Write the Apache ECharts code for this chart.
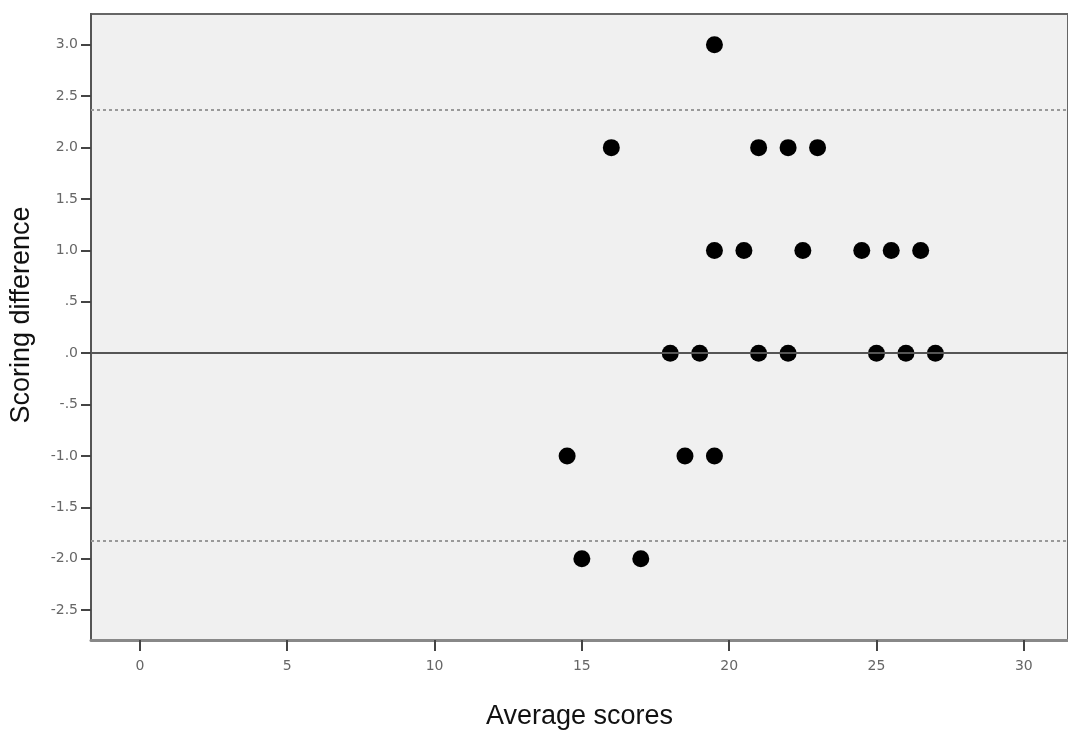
<!DOCTYPE html>
<html>
<head>
<meta charset="utf-8">
<script src="https://cdn.jsdelivr.net/npm/echarts@6/dist/echarts.min.js"></script>
<style>
  html, body { margin: 0; padding: 0; background: #fff; }
  #chart { width: 1068px; height: 736px; }
</style>
</head>
<body>
<div id="chart"></div>
<script>
  // Bland-Altman style plot: average vs difference
  var averageScores = [19.5, 16, 21, 22, 23, 19.5, 20.5, 22.5, 24.5, 25.5, 26.5,
    18, 19, 21, 22, 25, 26, 27, 14.5, 18.5, 19.5, 15, 17];
  var differences = [3, 2, 2, 2, 2, 1, 1, 1, 1, 1, 1,
    0, 0, 0, 0, 0, 0, 0, -1, -1, -1, -2, -2];
  var xTicks = [0, 5, 10, 15, 20, 25, 30];
  var yTicks = [-2.5, -2, -1.5, -1, -0.5, 0, 0.5, 1, 1.5, 2, 2.5, 3];
  var upperLimit = 2.37;
  var lowerLimit = -1.82;
  var meanLine = 0;

  var points = [];
  for (var i = 0; i < averageScores.length; i++) {
    points.push([averageScores[i], differences[i]]);
  }

  // SPSS style: no leading zero (.5, -.5)
  function spssLabel(v) {
    var s = v.toFixed(1);
    if (s.indexOf('0.') === 0) s = s.substring(1);
    if (s.indexOf('-0.') === 0) s = '-' + s.substring(2);
    return s;
  }

  var chart = echarts.init(document.getElementById('chart'));

  var option = {
    animation: false,
    grid: {
      left: 91,
      top: 14,
      right: -4,
      bottom: 96,
      show: true,
      backgroundColor: '#f0f0f0',
      borderColor: '#666',
      borderWidth: 2
    },
    xAxis: {
      type: 'value',
      min: -1.66,
      max: 31.5,
      name: 'Average scores',
      nameLocation: 'middle',
      nameGap: 63,
      nameTextStyle: { fontFamily: 'Liberation Sans', fontSize: 27, color: '#111' },
      axisLine: { show: true, onZero: false, lineStyle: { color: '#888', width: 3 } },
      axisTick: { show: true, length: 11, customValues: xTicks, lineStyle: { color: '#444', width: 2 } },
      axisLabel: {
        customValues: xTicks,
        margin: 19,
        fontFamily: 'DejaVu Sans',
        fontSize: 14,
        color: '#666'
      },
      splitLine: { show: false }
    },
    yAxis: {
      type: 'value',
      min: -2.79,
      max: 3.30,
      name: 'Scoring difference',
      nameLocation: 'middle',
      nameGap: 56,
      nameTextStyle: {
        fontFamily: 'Liberation Sans',
        fontSize: 27,
        color: '#111',
        padding: [0, 0, 0, 24]
      },
      axisLine: { show: true, onZero: false, lineStyle: { color: '#555', width: 2 } },
      axisTick: { show: true, length: 10, customValues: yTicks, lineStyle: { color: '#444', width: 2 } },
      axisLabel: {
        customValues: yTicks,
        margin: 13,
        fontFamily: 'DejaVu Sans',
        fontSize: 14,
        color: '#666',
        formatter: function (v) { return spssLabel(v); }
      },
      splitLine: { show: false }
    },
    series: [
      {
        type: 'scatter',
        data: points,
        symbol: 'circle',
        symbolSize: 17,
        itemStyle: { color: '#000', opacity: 1 },
        markLine: {
          silent: true,
          symbol: 'none',
          label: { show: false },
          data: [
            { yAxis: upperLimit, lineStyle: { type: [3, 3], color: '#999', width: 2 } },
            { yAxis: lowerLimit, lineStyle: { type: [3, 3], color: '#999', width: 2 } },
            { yAxis: meanLine, lineStyle: { type: 'solid', color: '#555', width: 2 } }
          ]
        }
      }
    ]
  };

  chart.setOption(option);
</script>
</body>
</html>
